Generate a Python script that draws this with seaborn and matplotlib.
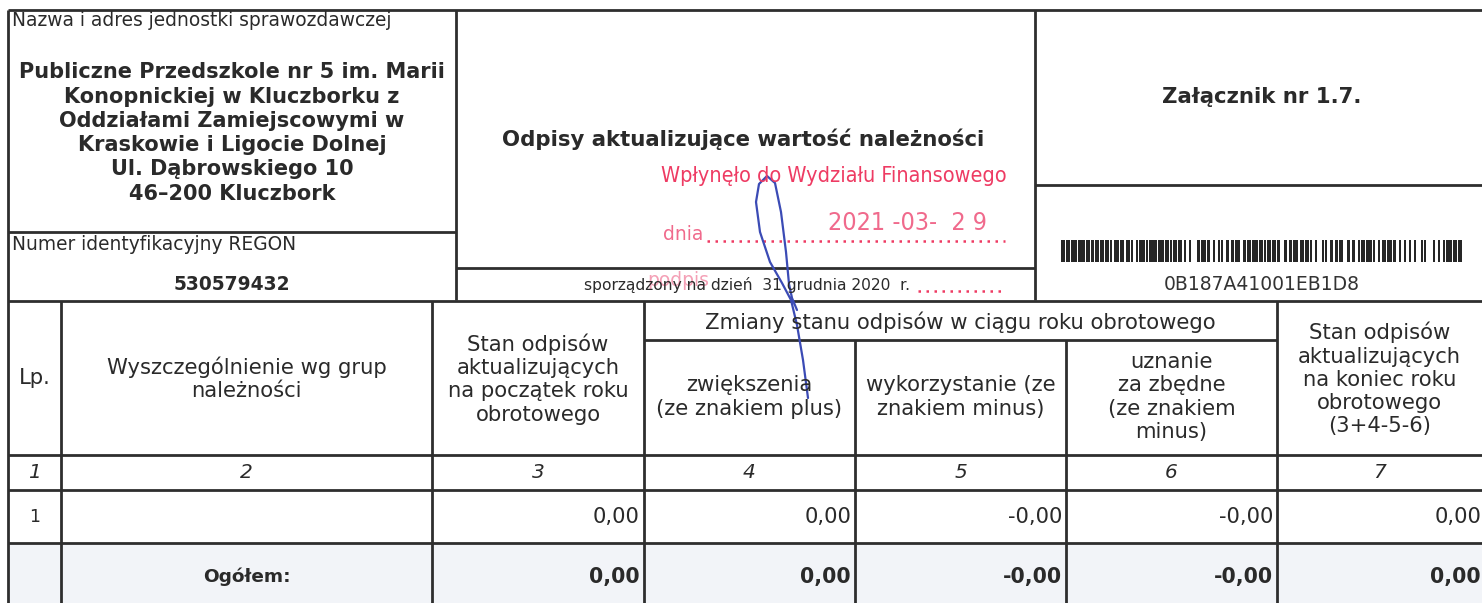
import matplotlib
matplotlib.use("Agg")
import matplotlib.pyplot as plt
import seaborn as sns
import numpy as np

sns.set_theme(style="white")
plt.rcParams['font.family'] = ['DejaVu Sans']

# ---------------- data ----------------
unit_label = "Nazwa i adres jednostki sprawozdawczej"
unit_name = ["Publiczne Przedszkole nr 5 im. Marii", "Konopnickiej w Kluczborku z",
             "Oddziałami Zamiejscowymi w", "Kraskowie i Ligocie Dolnej",
             "Ul. Dąbrowskiego 10", "46–200 Kluczbork"]
regon_label = "Numer identyfikacyjny REGON"
regon = "530579432"
title = "Odpisy aktualizujące wartość należności"
stamp_title = "Wpłynęło do Wydziału Finansowego"
stamp_date = "2021 -03-  2 9"
report_date = "sporządzony na dzień  31 grudnia 2020  r."
annex = "Załącznik nr 1.7."
barcode_text = "0B187A41001EB1D8"
barcode_widths = ("2121314121112121211131212112113111413121112121121411311212111212113"
                  "2112131211121211312113121211213111212112312121121311211213112121"
                  "21213111412121131212")

col_headers = ["Lp.", "Wyszczególnienie wg grup\nnależności",
               "Stan odpisów\naktualizujących\nna początek roku\nobrotowego",
               "zwiększenia\n(ze znakiem plus)", "wykorzystanie (ze\nznakiem minus)",
               "uznanie\nza zbędne\n(ze znakiem\nminus)",
               "Stan odpisów\naktualizujących\nna koniec roku\nobrotowego\n(3+4-5-6)"]
group_header = "Zmiany stanu odpisów w ciągu roku obrotowego"
col_numbers = ["1", "2", "3", "4", "5", "6", "7"]
row_lp = ["1"]
row_values = [0.00, 0.00, -0.00, -0.00, 0.00]
row_signs = ["", "", "-", "-", ""]
total_label = "Ogółem:"
total_values = [0.00, 0.00, -0.00, -0.00, 0.00]
total_signs = ["", "", "-", "-", ""]

# ---------------- layout ----------------
W, H = 1482, 603
fig = plt.figure(figsize=(W / 100, H / 100), dpi=100)
ax = fig.add_axes([0, 0, 1, 1])
ax.set_xlim(0, W)
ax.set_ylim(H, 0)
ax.axis("off")
fig.patch.set_facecolor("white")

LC = "#2e2e2e"
TC = "#2a2a2a"
LW = 2.0

def hl(y, x0, x1, lw=LW):
    ax.plot([x0, x1], [y, y], color=LC, lw=lw, solid_capstyle="butt")

def vl(x, y0, y1, lw=LW):
    ax.plot([x, x], [y0, y1], color=LC, lw=lw, solid_capstyle="butt")

# total row shading (scan texture)
ax.fill_between([8, W], 543, 603, color="#f2f4f8", lw=0)

# top boxes
hl(10, 8, W)
vl(8, 10, H)
vl(456, 10, 300)
vl(1035, 10, 300)
hl(232, 8, 456)
hl(268, 456, 1035)
hl(185, 1035, W)

# table grid
hl(301, 8, W)
cols = [8, 61, 432, 644, 855, 1066, 1277, W]
for x in cols[1:-1]:
    if x in (855, 1066):
        vl(x, 340, H)
    else:
        vl(x, 301, H)
hl(340, 644, 1277)
hl(455, 8, W)
hl(490, 8, W)
hl(543, 8, W)

# ---------------- texts: top ----------------
ax.text(12, 20, unit_label, fontsize=13.4, color=TC, va="center", ha="left")
ax.text(232, 133, "\n".join(unit_name), fontsize=15.0, fontweight="bold", color=TC,
        ha="center", va="center", linespacing=1.27)
ax.text(12, 244, regon_label, fontsize=13.4, color=TC, va="center", ha="left")
ax.text(232, 285, regon, fontsize=13.4, fontweight="bold", color=TC, ha="center", va="center")

ax.text(743, 139, title, fontsize=15.3, fontweight="bold", color=TC, ha="center", va="center")
ax.text(1262, 97, annex, fontsize=15.3, fontweight="bold", color=TC, ha="center", va="center")

# barcode
bx = 1061.0
unit = 401.0 / sum(int(c) for c in barcode_widths)
for i, c in enumerate(barcode_widths):
    w = int(c) * unit
    if i % 2 == 0:
        ax.fill_between([bx - 0.3, bx + w + 0.3], 240, 262, color="#262626", lw=0)
    bx += w
ax.text(1262, 284, barcode_text, fontsize=13.5, color="#333333", ha="center", va="center")

# stamp
RED = "#ee3b63"
PINK = "#f06a8c"
ax.text(834, 176, stamp_title, fontsize=15.5, color=RED, ha="center", va="center",
        fontstretch="condensed")
ax.text(663, 234, "dnia", fontsize=13.5, color=PINK, ha="left", va="center")
ax.plot([707, 1005], [241, 241], color=RED, lw=1.8, linestyle=(0, (1, 2.2)))
ax.text(907, 223, stamp_date, fontsize=18, color=PINK, ha="center", va="center",
        fontstretch="condensed")
ax.text(647, 281, "podpis", fontsize=13.5, color="#f4a0b6", ha="left", va="center")
ax.plot([918, 1005], [291, 291], color=RED, lw=1.8, linestyle=(0, (1, 2.2)))
ax.text(747, 285, report_date, fontsize=11.2, color=TC, ha="center", va="center")

# signature
sig_x = [808, 803, 797, 791, 782, 770, 760, 756, 759, 767, 775, 781, 786, 789, 792, 797]
sig_y = [398, 360, 325, 300, 283, 262, 232, 202, 184, 176, 183, 212, 252, 284, 298, 310]
ax.plot(sig_x, sig_y, color="#3b4bb5", lw=1.6)

# ---------------- texts: table ----------------
hdr_fs = 15.2
centers = [(cols[i] + cols[i + 1]) / 2 for i in range(len(cols) - 1)]
hdr_y = [378, 379, 379, 397, 397, 397, 379]
for cx, cy, t in zip(centers, hdr_y, col_headers):
    ax.text(cx, cy, t, fontsize=hdr_fs, color=TC, ha="center", va="center", linespacing=1.2)
ax.text((644 + 1277) / 2, 322, group_header, fontsize=hdr_fs, color=TC, ha="center", va="center")

for cx, t in zip(centers, col_numbers):
    ax.text(cx, 473, t, fontsize=14.5, style="italic", color=TC, ha="center", va="center")

ax.text(centers[0], 517, row_lp[0], fontsize=12.5, color=TC, ha="center", va="center")

def fmt(v, s):
    return s + f"{abs(v):.2f}".replace(".", ",")

for i, (v, s) in enumerate(zip(row_values, row_signs)):
    xr = cols[i + 3] - 4 if i < 4 else W - 1
    ax.text(xr, 517, fmt(v, s), fontsize=15.2, color=TC, ha="right", va="center")

ax.text(centers[1], 577, total_label, fontsize=13.3, fontweight="bold", color=TC,
        ha="center", va="center")
for i, (v, s) in enumerate(zip(total_values, total_signs)):
    xr = cols[i + 3] - 4 if i < 4 else W - 1
    ax.text(xr, 577, fmt(v, s), fontsize=14.8, fontweight="bold", color=TC,
            ha="right", va="center")

fig.savefig("out.png", dpi=100, facecolor="white")
